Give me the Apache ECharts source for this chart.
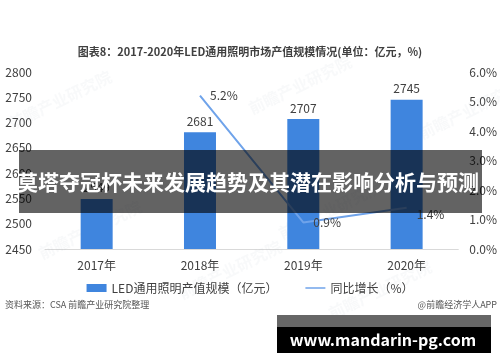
<!DOCTYPE html>
<html><head><meta charset="utf-8">
<script src="https://cdn.jsdelivr.net/npm/echarts@6/dist/echarts.min.js"></script>
<style>html,body{margin:0;padding:0;background:#fff}#c{width:500px;height:362px}</style>
</head><body><div id="c"></div>
<script>
var categories = ['2017年','2018年','2019年','2020年'];
var outputValues = [2549, 2681, 2707, 2745];
var growthValues = [null, 5.2, 0.9, 1.4];
var leftTicks = {min: 2450, max: 2800, interval: 50};
var rightTicks = {min: 0, max: 6, interval: 1};
var titleText = '图表8：2017-2020年LED通用照明市场产值规模情况(单位：亿元，%)';
var barName = 'LED通用照明产值规模（亿元）';
var lineName = '同比增长（%）';
var sourceText = '资料来源：CSA 前瞻产业研究院整理';
var appText = '@前瞻经济学人APP';
var bannerText = '莫塔夺冠杯未来发展趋势及其潜在影响分析与预测';
var urlText = 'www.mandarin-pg.com';

var font = '"Noto Sans CJK SC","Noto Sans",sans-serif';
var chart = echarts.init(document.getElementById('c'), null, {renderer: 'canvas'});
var wm = [];
[[60,100],[300,85],[90,230],[230,270],[470,110],[380,290],[330,210]].forEach(function(p){
  wm.push({type:'text', x:p[0], y:p[1], rotation: Math.PI/7, z: 1,
    style:{text:'前瞻产业研究院', fill:'rgba(180,190,200,0.09)', font:'bold 16px '+font, align:'center', verticalAlign:'middle'}});
});
chart.setOption({
  animation: false,
  textStyle: {fontFamily: font},
  title: {text: titleText, left: 'center', top: 41,
    textStyle: {fontSize: 11, fontWeight: 'bold', color: '#404040', fontFamily: font}},
  grid: {left: 45, right: 41, top: 72, bottom: 113},
  legend: {bottom: 63, left: 'center', itemGap: 28, itemWidth: 20, itemHeight: 8,
    textStyle: {fontSize: 12, color: '#404040', fontFamily: font},
    data: [{name: barName, icon: 'rect'}, {name: lineName, icon: 'path://M0 0H40V3H0Z'}]},
  xAxis: {type: 'category', data: categories,
    axisLine: {lineStyle: {color: '#d9d9d9'}}, axisTick: {show: false},
    axisLabel: {fontSize: 12, color: '#404040', margin: 10}},
  yAxis: [
    {type: 'value', min: leftTicks.min, max: leftTicks.max, interval: leftTicks.interval,
      splitLine: {show: false}, axisLine: {show: false}, axisTick: {show: false},
      axisLabel: {fontSize: 12, color: '#404040', margin: 13, formatter: function(v){return String(v);}}},
    {type: 'value', min: rightTicks.min, max: rightTicks.max, interval: rightTicks.interval,
      splitLine: {show: false}, axisLine: {show: false}, axisTick: {show: false},
      axisLabel: {fontSize: 12, color: '#404040', margin: 11, formatter: function(v){return v.toFixed(1)+'%';}}}
  ],
  series: [
    {name: barName, type: 'bar', data: outputValues, barWidth: 32, z: 2,
      itemStyle: {color: '#3f85de'},
      label: {show: true, position: 'top', fontSize: 12, color: '#404040', distance: 5}},
    {name: lineName, type: 'line', yAxisIndex: 1, data: growthValues, z: 3,
      showSymbol: true, symbol: 'circle', symbolSize: 0.1, connectNulls: false,
      lineStyle: {color: '#6fa3ea', width: 2}, itemStyle: {color: '#6fa3ea'},
      label: {show: true, position: 'right', distance: 10, fontSize: 12, color: '#404040',
        formatter: function(p){return p.value.toFixed(1)+'%';}},
      labelLayout: function(p){ return {dy: p.dataIndex === 3 ? 7 : 0}; }}
  ],
  graphic: wm.concat([
    {type:'text', left: 5, top: 300, z: 5, style:{text: sourceText, fill:'#555', font:'9px '+font}},
    {type:'text', right: 3, top: 300, z: 5, style:{text: appText, fill:'#555', font:'9px '+font}},
    {type:'rect', shape:{x:19, y:150, width:463, height:63}, z: 100, style:{fill:'rgba(0,0,0,0.61)'}},
    {type:'text', x: 248, y: 182, z: 101, style:{text: bannerText, fill:'#fff', font:'bold 21px '+font, align:'center', verticalAlign:'middle'}},
    {type:'rect', shape:{x:277, y:315, width:214, height:12}, z: 100, style:{fill:'#666'}},
    {type:'rect', shape:{x:277, y:327, width:214, height:26}, z: 100, style:{fill:'#000'}},
    {type:'text', x: 383, y: 340, z: 101, style:{text: urlText, fill:'#fff', font:'bold 16px '+font, align:'center', verticalAlign:'middle'}}
  ])
});
</script></body></html>
